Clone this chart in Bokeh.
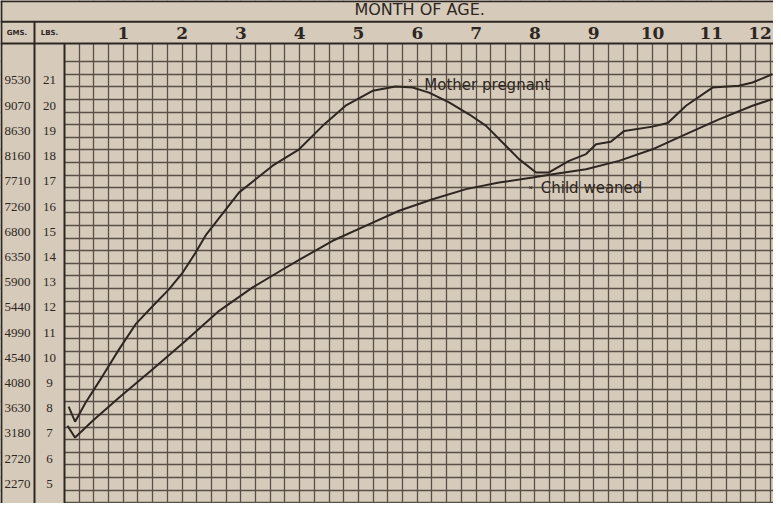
from bokeh.plotting import figure
from bokeh.models import Range1d, FixedTicker, Grid, ColumnDataSource
from bokeh.core.properties import value
from bokeh.embed import file_html
from bokeh.resources import INLINE
import numpy as np

# ---- data ----
months = [1, 2, 3, 4, 5, 6, 7, 8, 9, 10, 11, 12]
month_labels = ["1", "2", "3", "4", "5", "6", "7", "8", "9", "10", "11", "12"]
lbs = [21, 20, 19, 18, 17, 16, 15, 14, 13, 12, 11, 10, 9, 8, 7, 6, 5]
lbs_labels = [str(v) for v in lbs]
gms_labels = ["9530", "9070", "8630", "8160", "7710", "7260", "6800", "6350",
              "5900", "5440", "4990", "4540", "4080", "3630", "3180", "2720", "2270"]

# upper curve (mother pregnant / child weaned case)
upper_month = [0.07, 0.18, 0.36, 0.65, 0.93, 1.21, 1.53, 1.78, 2.01, 2.23, 2.40,
               2.97, 3.54, 3.99, 4.39, 4.78, 5.24, 5.63, 5.92, 6.20, 6.54, 6.88,
               7.17, 7.45, 7.73, 8.02, 8.24, 8.58, 8.87, 9.04, 9.29, 9.52, 10.0,
               10.26, 10.57, 11.02, 11.47, 11.70, 12.04]
upper_lbs = [8.06, 7.46, 8.22, 9.28, 10.34, 11.33, 12.12, 12.72, 13.38, 14.17, 14.85,
             16.56, 17.62, 18.27, 19.20, 20.00, 20.59, 20.76, 20.72, 20.52, 20.13, 19.66,
             19.20, 18.54, 17.88, 17.35, 17.35, 17.81, 18.08, 18.47, 18.57, 19.00, 19.17,
             19.31, 20.00, 20.72, 20.79, 20.92, 21.25]

# lower curve
lower_month = [0.05, 0.18, 0.48, 0.93, 1.50, 2.06, 2.63, 3.20, 3.71, 3.99, 4.56,
               5.12, 5.69, 6.26, 6.83, 7.39, 7.96, 8.30, 8.87, 9.43, 10.0, 10.57,
               11.13, 11.70, 12.04]
lower_lbs = [7.30, 6.83, 7.50, 8.42, 9.54, 10.67, 11.86, 12.79, 13.50, 13.88, 14.64,
             15.23, 15.83, 16.29, 16.69, 16.95, 17.15, 17.28, 17.48, 17.81, 18.27, 18.87,
             19.46, 20.00, 20.26]

# ---- styling ----
BG = "#d6cbbb"
GRID = "#5a4f46"
INK = "#2e2620"

XMIN, XMAX = -1.0884, 12.0578
YMIN, YMAX = 4.2143, 24.1746
GRID_TOP = 22.47
ROW_LINE = 23.33

p = figure(width=773, height=503, output_backend="svg", toolbar_location=None,
           x_range=Range1d(XMIN, XMAX), y_range=Range1d(YMIN, YMAX),
           x_axis_location=None, y_axis_location=None, min_border=0)
p.outline_line_color = None
p.background_fill_color = BG
p.border_fill_color = BG
p.grid.visible = False

vticks = list(np.arange(0.25, 12.01, 0.25))
hticks = list(np.arange(4.25, 22.0, 0.5))
p.add_layout(Grid(dimension=0, ticker=FixedTicker(ticks=vticks),
                  grid_line_color=GRID, grid_line_width=1.3))
p.add_layout(Grid(dimension=1, ticker=FixedTicker(ticks=hticks),
                  grid_line_color=GRID, grid_line_width=1.3))

# cover header and label columns
p.quad(left=[XMIN], right=[XMAX], bottom=[GRID_TOP], top=[YMAX],
       fill_color=BG, line_color=None)
p.quad(left=[XMIN], right=[0], bottom=[YMIN], top=[GRID_TOP],
       fill_color=BG, line_color=None)

# table rules
p.segment(x0=[XMIN, XMIN, XMIN, XMIN + 0.015, -0.51, 0],
          y0=[YMAX - 0.03, ROW_LINE, GRID_TOP, YMIN, YMIN, YMIN],
          x1=[XMAX, XMAX, XMAX, XMIN + 0.015, -0.51, 0],
          y1=[YMAX - 0.03, ROW_LINE, GRID_TOP, YMAX, ROW_LINE, GRID_TOP],
          line_color=INK, line_width=2)

# header texts
p.text(x=[6.04], y=[23.80], text=["MONTH OF AGE."], text_align="center",
       text_baseline="middle", text_font=value("DejaVu Sans"),
       text_font_size="16px", text_color=INK)
msrc = ColumnDataSource(dict(x=months, y=[22.87] * len(months), t=month_labels,
                             off=[0] * (len(months) - 1) + [-10]))
p.text(x="x", y="y", text="t", x_offset="off", source=msrc, text_align="center",
       text_baseline="middle", text_font=value("DejaVu Serif"),
       text_font_style="bold", text_font_size="17px", text_color=INK)
p.text(x=[-0.81, -0.255], y=[22.88, 22.88], text=["GMS.", "LBS."], text_align="center",
       text_baseline="middle", text_font=value("DejaVu Sans"), text_font_style="bold",
       text_font_size="7px", text_color=INK)

# value columns
p.text(x=[-0.80] * len(lbs), y=lbs, text=gms_labels, text_align="center",
       text_baseline="middle", text_font=value("Liberation Serif"),
       text_font_size="13px", text_color=INK)
p.text(x=[-0.255] * len(lbs), y=lbs, text=lbs_labels, text_align="center",
       text_baseline="middle", text_font=value("Liberation Serif"),
       text_font_size="13px", text_color=INK)

# curves
p.line(upper_month, upper_lbs, line_color=INK, line_width=2)
p.line(lower_month, lower_lbs, line_color=INK, line_width=2)

# annotations
p.scatter(x=[5.88, 7.93], y=[21.0, 16.75], marker="x", size=4, line_color=INK)
p.text(x=[6.12], y=[20.84], text=["Mother pregnant"], text_align="left",
       text_baseline="middle", text_font=value("DejaVu Sans"),
       text_font_size="15px", text_color=INK)
p.text(x=[8.10], y=[16.75], text=["Child weaned"], text_align="left",
       text_baseline="middle", text_font=value("DejaVu Sans"),
       text_font_size="15px", text_color=INK)

open("out.html", "w").write(file_html(p, INLINE))
